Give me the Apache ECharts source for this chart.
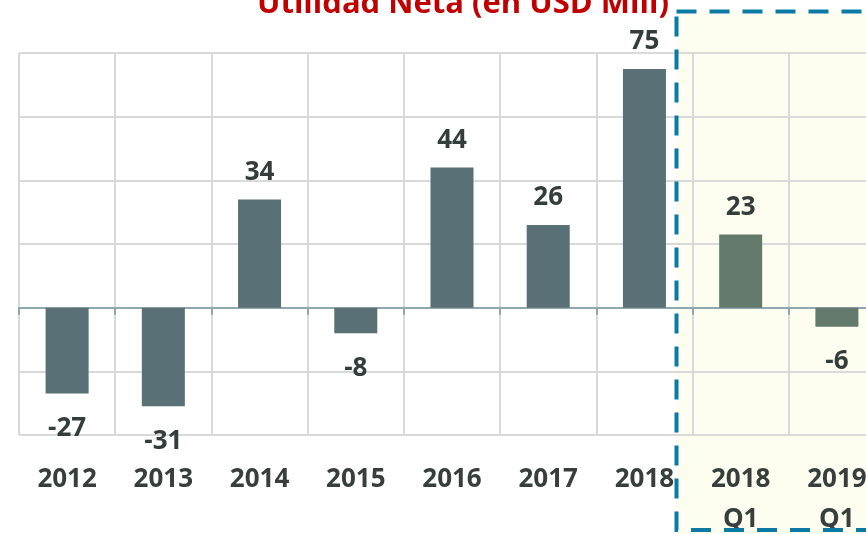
<!DOCTYPE html>
<html>
<head>
<meta charset="utf-8">
<script src="https://cdn.jsdelivr.net/npm/echarts@6/dist/echarts.min.js"></script>
<style>
    html, body { margin: 0; padding: 0; background: #ffffff; }
    #my_chart { width: 866px; height: 534px; }
</style>
</head>
<body>
<div id="my_chart"></div>
<script>
    // datos
    var categories = ['2012', '2013', '2014', '2015', '2016', '2017', '2018', '2018\nQ1', '2019\nQ1'];
    var utilidad = [-27, -31, 34, -8, 44, 26, 75, 23, -6];
    var firstQuarter = 7; // desde aquí las barras trimestrales

    var myChart = echarts.init(document.getElementById('my_chart'));
    var font = '"Open Sans", "Liberation Sans", sans-serif';

    option = {
        animation: false,
        title: {
            text: 'Utilidad Neta (en USD Mill)',
            left: 257,
            top: -11,
            padding: 0,
            textStyle: {
                color: '#c00000',
                fontFamily: font,
                fontWeight: 'bold',
                fontSize: 31
            }
        },
        graphic: [
            {
                type: 'rect',
                z: -1,
                shape: { x: 676, y: 11, width: 220, height: 530 },
                style: { fill: '#fdfdf0' }
            },
            {
                type: 'rect',
                z: 100,
                shape: { x: 676.5, y: 11.5, width: 220, height: 518.5 },
                style: { fill: 'none', stroke: '#0b7aa4', lineWidth: 4, lineDash: [20, 13] }
            }
        ],
        grid: {
            left: 19,
            top: 53,
            width: 866,
            height: 382,
            outerBoundsMode: 'none'
        },
        xAxis: [
            {
                type: 'category',
                data: categories,
                position: 'bottom',
                axisLine: { show: false, onZero: false },
                axisTick: { show: false },
                splitLine: { show: true, lineStyle: { color: '#d9d9d9', width: 2 } },
                axisLabel: {
                    margin: 25,
                    color: '#363f3c',
                    fontFamily: font,
                    fontWeight: 'bold',
                    fontSize: 26,
                    lineHeight: 40
                }
            },
            {
                type: 'category',
                data: categories,
                position: 'top',
                axisLine: { show: true, onZero: true, lineStyle: { color: '#8ea7b0', width: 2 } },
                axisTick: { show: true, inside: true, length: 7, lineStyle: { color: '#8ea7b0', width: 2 } },
                axisLabel: { show: false },
                splitLine: { show: false }
            }
        ],
        yAxis: {
            type: 'value',
            min: -40,
            max: 80,
            interval: 20,
            axisLine: { show: false },
            axisTick: { show: false },
            axisLabel: { show: false },
            splitLine: { lineStyle: { color: '#d9d9d9', width: 2 } }
        },
        series: [
            {
                name: 'Utilidad Neta',
                type: 'bar',
                xAxisIndex: 0,
                barWidth: 43,
                data: utilidad.map(function (v, i) {
                    return {
                        value: v,
                        itemStyle: { color: i >= firstQuarter ? '#637a6d' : '#5a7077' },
                        label: { position: v < 0 ? 'bottom' : 'top', distance: v < 0 ? 22 : 14 }
                    };
                }),
                label: {
                    show: true,
                    color: '#333d3b',
                    fontFamily: font,
                    fontWeight: 'bold',
                    fontSize: 26
                }
            }
        ]
    };

    myChart.setOption(option);
</script>
</body>
</html>
